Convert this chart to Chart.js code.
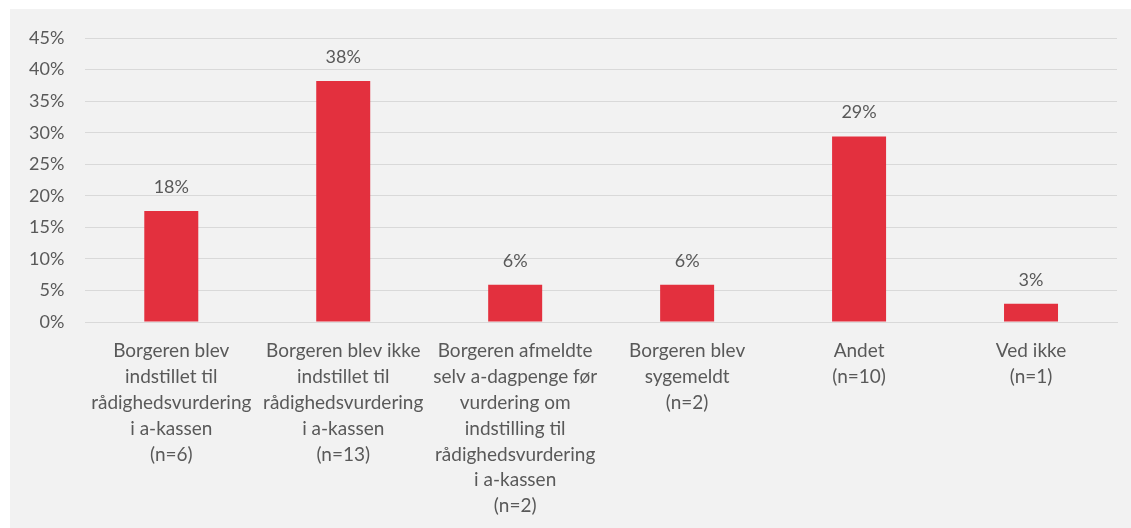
<!DOCTYPE html>
<html><head><meta charset="utf-8">
<script src="https://cdn.jsdelivr.net/npm/chart.js@4/dist/chart.umd.min.js"></script>
<style>
html,body{margin:0;padding:0;background:#fff;overflow:hidden;width:1131px;height:528px;}
#wrap{position:absolute;left:0;top:0;width:1131px;height:535px;}
</style></head>
<body>
<div id="wrap"><canvas id="c" width="1131" height="535"></canvas></div>
<script>
const categories = [
  ["Borgeren blev","indstillet til","rådighedsvurdering","i a-kassen","(n=6)"],
  ["Borgeren blev ikke","indstillet til","rådighedsvurdering","i a-kassen","(n=13)"],
  ["Borgeren afmeldte","selv a-dagpenge før","vurdering om","indstilling til","rådighedsvurdering","i a-kassen","(n=2)"],
  ["Borgeren blev","sygemeldt","(n=2)"],
  ["Andet","(n=10)"],
  ["Ved ikke","(n=1)"]
];
const values = [0.176, 0.382, 0.059, 0.059, 0.294, 0.029];
const valueLabels = ["18%","38%","6%","6%","29%","3%"];
const yTicks = [0,0.05,0.10,0.15,0.20,0.25,0.30,0.35,0.40,0.45];

const FONT = "Lato, 'Open Sans', sans-serif";
const TXT = "#595959";

const bgPlugin = {
  id:'bg',
  beforeDraw(chart){
    const ctx = chart.ctx;
    ctx.save();
    ctx.fillStyle = '#f2f2f2';
    ctx.fillRect(10, 9, chart.width-10, chart.height-9);
    ctx.restore();
  }
};
const labelPlugin = {
  id:'vlabels',
  afterDatasetsDraw(chart){
    const ctx = chart.ctx;
    const meta = chart.getDatasetMeta(0);
    ctx.save();
    ctx.font = "18px " + FONT;
    ctx.fillStyle = TXT;
    ctx.textAlign = 'center';
    ctx.textBaseline = 'middle';
    meta.data.forEach((bar,i)=>{
      ctx.fillText(valueLabels[i], bar.x, bar.y - 24);
    });
    ctx.restore();
  }
};

new Chart(document.getElementById('c'), {
  type:'bar',
  data:{
    labels: categories,
    datasets:[{
      data: values,
      backgroundColor:'#e3303e',
      categoryPercentage: 1,
      barPercentage: 0.314
    }]
  },
  plugins:[bgPlugin, labelPlugin],
  options:{
    responsive:false,
    animation:false,
    devicePixelRatio:1,
    layout:{padding:{left:8,right:14,top:38,bottom:0}},
    plugins:{legend:{display:false},tooltip:{enabled:false}},
    scales:{
      x:{
        grid:{display:false, drawTicks:false},
        border:{display:true,color:'#d9d9d9',width:1},
        ticks:{color:TXT,font:{family:FONT,size:19,lineHeight:1.36},maxRotation:0,autoSkip:false,padding:16}
      },
      y:{
        min:0,max:0.45,
        afterBuildTicks(axis){ axis.ticks = yTicks.map(v=>({value:v})); },
        grid:{color:'#d9d9d9',lineWidth:1,drawTicks:false},
        border:{display:false},
        ticks:{color:TXT,font:{family:FONT,size:18},padding:21,
          callback:(v)=>Math.round(v*100)+'%'}
      }
    }
  }
});
</script>
</body></html>
